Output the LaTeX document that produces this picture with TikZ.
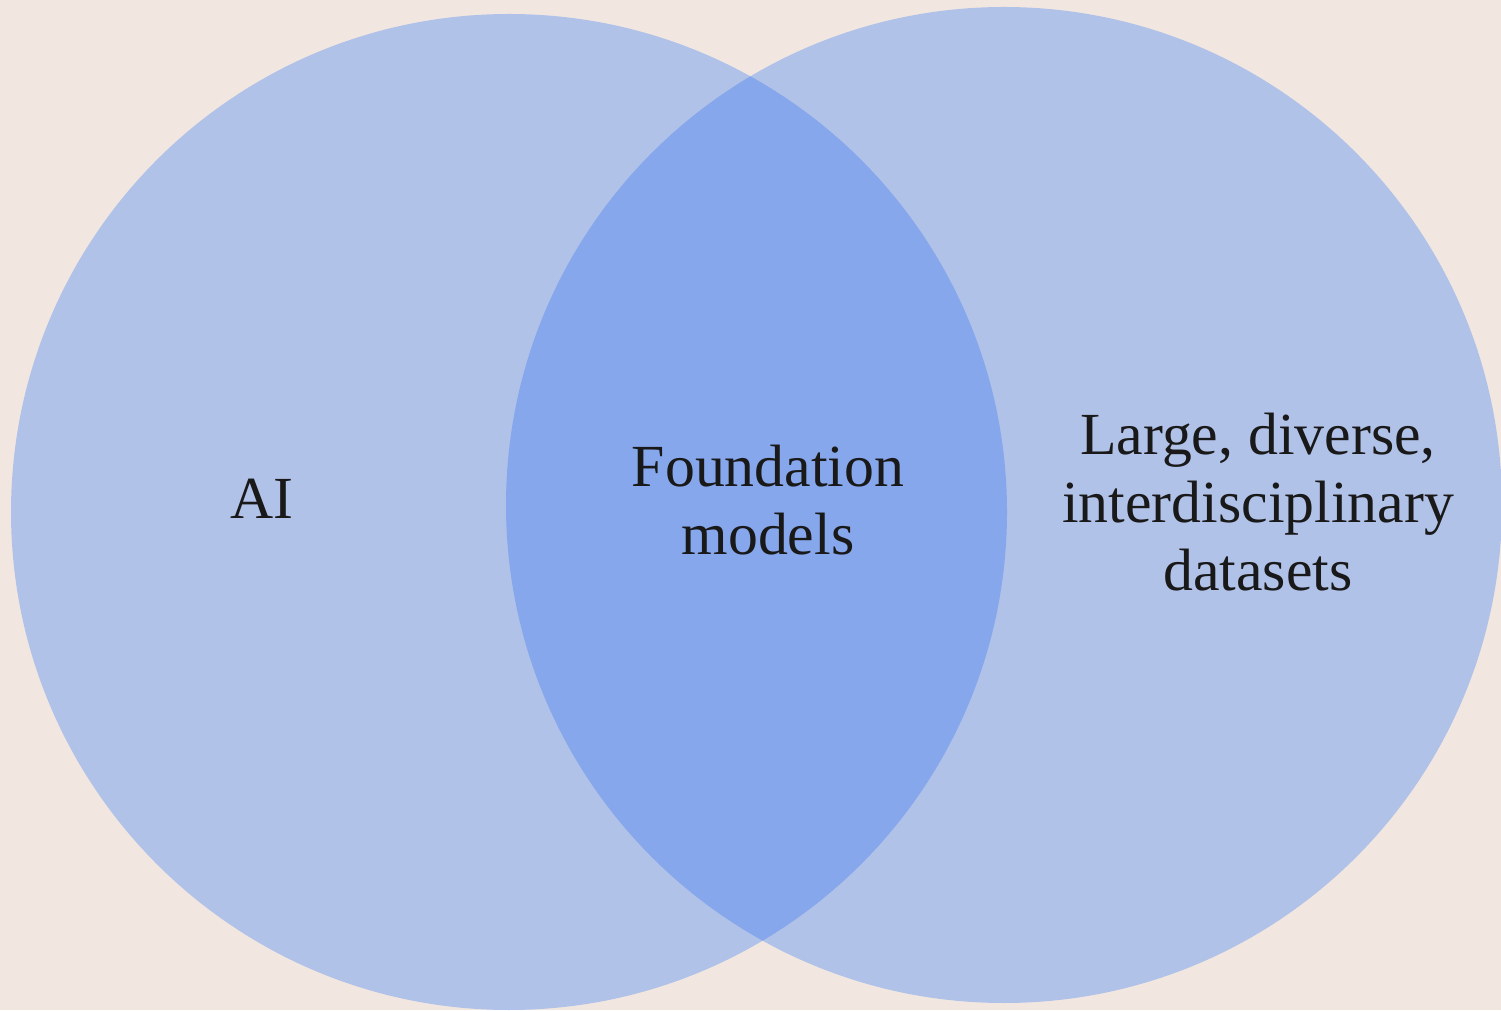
\documentclass[tikz,border=0pt]{standalone}
\usepackage{fontspec}
\setmainfont{Liberation Serif}
\usetikzlibrary{positioning}

\definecolor{paper}{RGB}{242,231,224}
\definecolor{setblue}{RGB}{177,194,233}
\definecolor{bothblue}{RGB}{134,167,235}

\begin{document}
\begin{tikzpicture}
    \tikzset{
        label text/.style={align=center, text=black!90, font=\fontsize{17}{19.3}\selectfont},
    }
    \fill[paper] (0,0) rectangle (15.01,10.10);
    \useasboundingbox (0,0) rectangle (15.01,10.10);

    % the two sets
    \fill[setblue] (5.09,4.98) circle (4.98);
    \fill[setblue] (10.04,5.05) circle (4.98);

    % their overlap
    \begin{scope}
        \clip (5.09,4.98) circle (4.98);
        \fill[bothblue] (10.04,5.05) circle (4.98);
    \end{scope}

    \node[label text, anchor=base] (ai) at (2.62,4.91) {AI};
    \node[label text] (found) at (7.68,5.10) {Foundation\\models};
    \node[label text] (data) at (12.58,5.08) {Large, diverse,\\interdisciplinary\\datasets};
\end{tikzpicture}
\end{document}
